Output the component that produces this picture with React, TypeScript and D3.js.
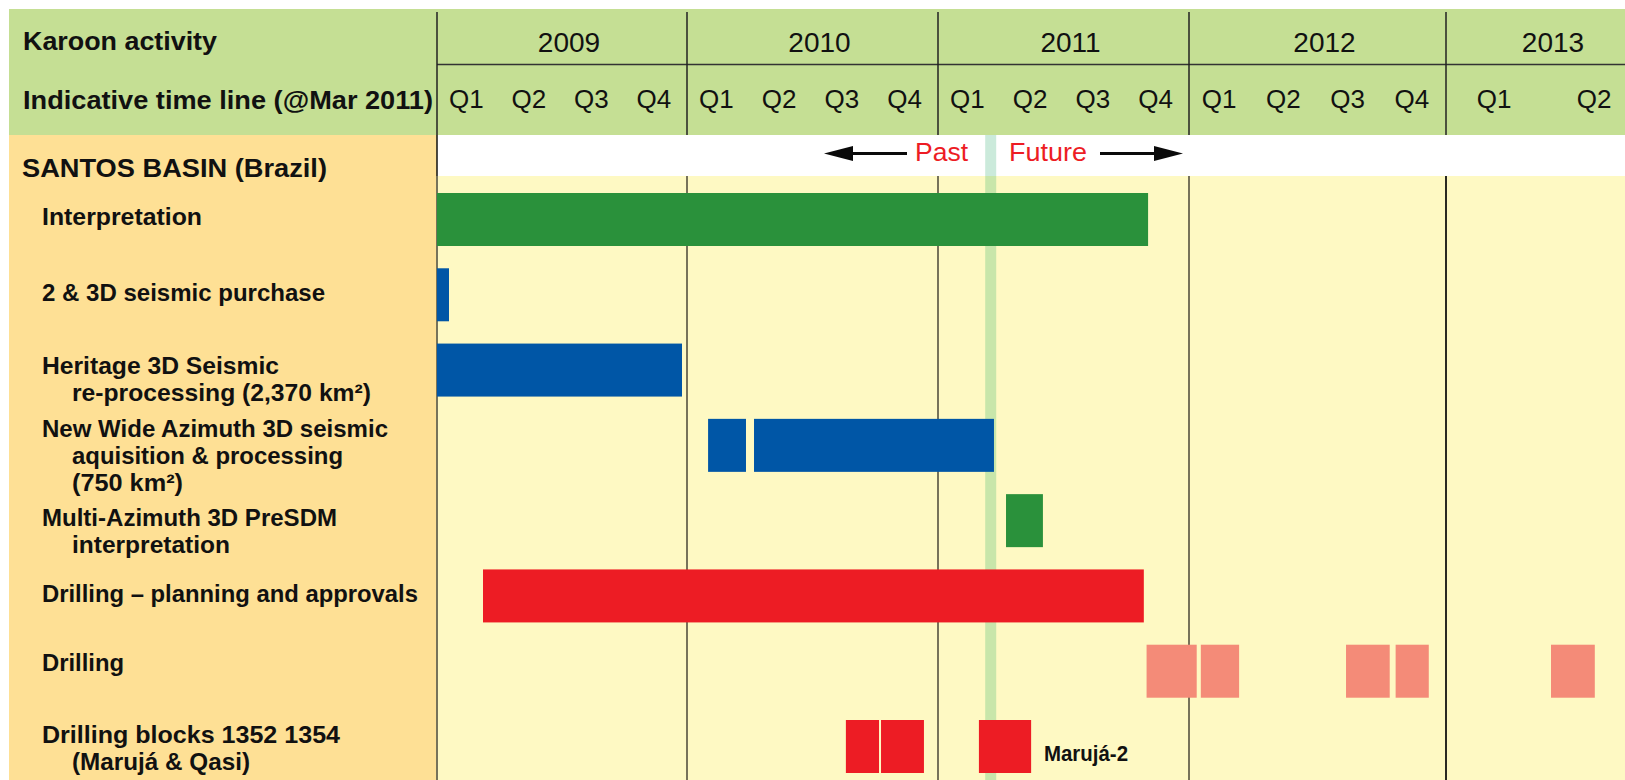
import * as d3 from "d3";

// time axis
const years = [2009, 2010, 2011, 2012, 2013];
const quarters = ["Q1", "Q2", "Q3", "Q4"];
const lastQuarterShown = 2; // 2013 only shows Q1, Q2
const asOfDate = 2011.21; // "@Mar 2011"

// activity labels (one entry per row, one string per line)
const rowLabels = [
  ["Interpretation"],
  ["2 & 3D seismic purchase"],
  ["Heritage 3D Seismic", "re-processing (2,370 km²)"],
  ["New Wide Azimuth 3D seismic", "aquisition & processing", "(750 km²)"],
  ["Multi-Azimuth 3D PreSDM", "interpretation"],
  ["Drilling – planning and approvals"],
  ["Drilling"],
  ["Drilling  blocks 1352 1354", "(Marujá & Qasi)"],
];

// bar spans in decimal years, per row
const interpretationSpans = [[2009.0, 2011.837]];
const purchaseSpans = [[2009.0, 2009.048]];
const heritageSpans = [[2009.0, 2009.98]];
const wideAzimuthSpans = [[2010.084, 2010.235], [2010.267, 2011.223]];
const presdmSpans = [[2011.271, 2011.418]];
const planningSpans = [[2009.184, 2011.82]];
const drillingSpans = [
  [2011.831, 2012.03],
  [2012.046, 2012.195],
  [2012.611, 2012.781],
  [2012.804, 2012.933],
  [2013.2625, 2013.372],
];
const blockSpans = [[2010.633, 2010.765], [2010.773, 2010.944], [2011.163, 2011.371]];

const rowSpans = [
  interpretationSpans,
  purchaseSpans,
  heritageSpans,
  wideAzimuthSpans,
  presdmSpans,
  planningSpans,
  drillingSpans,
  blockSpans,
];
const rowKinds = ["green", "blue", "blue", "blue", "green", "red", "salmon", "red"];

const colors: Record<string, string> = {
  green: "#2a913b",
  blue: "#0056a6",
  red: "#ed1c24",
  salmon: "#f48b78",
};

// layout
const W = 1625;
const H = 780;
const left = 437;
const headTop = 9;
const headBottom = 135;
const bandBottom = 176;
const barH = 53;
const font = "'Liberation Sans', Arial, Helvetica, sans-serif";
// first-line baseline offset from the bar top, and measured text widths
const labelOffsets = [32, 33, 30, 18, 32, 33, 26, 23];
const labelWidths = [
  [160],
  [283],
  [237, 299],
  [346, 271, 111],
  [295, 158],
  [376],
  [82],
  [298, 178],
];

const App = () => {
  const x = d3
    .scaleLinear()
    .domain([2009, 2010, 2011, 2012, 2013, 2013.5])
    .range([437, 687, 938, 1189, 1446, 1646]);

  const y = d3
    .scaleLinear()
    .domain([0, rowLabels.length - 1])
    .range([193, 720]);

  const quarterTicks: { label: string; pos: number }[] = [];
  years.forEach((yr) => {
    quarters.forEach((q, i) => {
      if (yr === 2013 && i >= lastQuarterShown) return;
      quarterTicks.push({ label: q, pos: x(yr + i * 0.25 + 0.125) });
    });
  });

  const asOfX = x(asOfDate);

  return (
    <svg
      width={W}
      height={H}
      style={{ position: "absolute", left: 0, top: 0, background: "#fff" }}
    >
      {/* backgrounds */}
      <rect x={headTop} y={headTop} width={W - headTop} height={headBottom - headTop} fill="#c5df94" />
      <rect x={headTop} y={headBottom} width={left - headTop} height={H - headBottom} fill="#fee095" />
      <rect x={left} y={headBottom} width={W - left} height={bandBottom - headBottom} fill="#ffffff" />
      <rect x={left} y={bandBottom} width={W - left} height={H - bandBottom} fill="#fef9c3" />

      {/* current date band */}
      <rect x={asOfX - 5.5} y={headBottom} width={11} height={bandBottom - headBottom} fill="#cbeadb" />
      <rect x={asOfX - 5.5} y={bandBottom} width={11} height={H - bandBottom} fill="#c8e6aa" />

      {/* header lines */}
      <line x1={left} x2={W} y1={64.5} y2={64.5} stroke="#333" strokeWidth={1.5} />
      {years.map((yr) => (
        <line key={"h" + yr} x1={x(yr)} x2={x(yr)} y1={12} y2={headBottom} stroke="#222" strokeWidth={1.5} />
      ))}
      <line x1={left} x2={left} y1={headBottom} y2={bandBottom} stroke="#111" strokeWidth={1.5} />

      {/* body grid lines */}
      {years.map((yr) => (
        <line
          key={"g" + yr}
          x1={x(yr)}
          x2={x(yr)}
          y1={bandBottom}
          y2={H}
          stroke={yr === 2013 ? "#2a2a22" : "#77735a"}
          strokeWidth={2}
        />
      ))}

      {/* bars */}
      {rowSpans.map((spans, r) =>
        spans.map((s, k) => (
          <rect
            key={`b${r}-${k}`}
            x={x(s[0])}
            y={y(r)}
            width={x(s[1]) - x(s[0])}
            height={barH}
            fill={colors[rowKinds[r]]}
          />
        ))
      )}

      {/* header text */}
      <g fontFamily={font} fill="#111">
        <text x={23} y={50} fontSize={26} fontWeight="bold" textLength={194} lengthAdjust="spacingAndGlyphs">
          Karoon activity
        </text>
        <text x={23} y={109} fontSize={26} fontWeight="bold" textLength={410} lengthAdjust="spacingAndGlyphs">
          Indicative time line (@Mar 2011)
        </text>
        {years.map((yr) => (
          <text
            key={"y" + yr}
            x={(x(yr) + x(Math.min(yr + 1, 2013.5))) / 2 + 7}
            y={52}
            fontSize={28}
            textAnchor="middle"
          >
            {yr}
          </text>
        ))}
        {quarterTicks.map((q, i) => (
          <text key={"q" + i} x={q.pos - 2} y={108} fontSize={26} textAnchor="middle">
            {q.label}
          </text>
        ))}
      </g>

      {/* Past / Future */}
      <g fontFamily={font} fontSize={25} fill="#ed1c24">
        <text x={915} y={161} textLength={53} lengthAdjust="spacingAndGlyphs">Past</text>
        <text x={1009} y={161} textLength={78} lengthAdjust="spacingAndGlyphs">Future</text>
      </g>
      <g fill="#0a0a0a" stroke="none">
        <rect x={851} y={152} width={56} height={3} />
        <path d="M824,153.5 L853,146 L853,161 Z" />
        <rect x={1100} y={152} width={56} height={3} />
        <path d="M1183,153.5 L1154,146 L1154,161 Z" />
      </g>

      {/* row labels */}
      <g fontFamily={font} fontWeight="bold" fill="#111">
        <text x={22} y={177} fontSize={26} textLength={305} lengthAdjust="spacingAndGlyphs">
          SANTOS BASIN (Brazil)
        </text>
        {rowLabels.map((lines, r) =>
          lines.map((line, j) => (
            <text
              key={`l${r}-${j}`}
              x={j === 0 ? 42 : 72}
              y={y(r) + labelOffsets[r] + j * 27}
              fontSize={24}
              textLength={labelWidths[r][j]}
              lengthAdjust="spacingAndGlyphs"
            >
              {line}
            </text>
          ))
        )}
        <text x={1044} y={761} fontSize={22} textLength={84} lengthAdjust="spacingAndGlyphs">
          Marujá-2
        </text>
      </g>
    </svg>
  );
};

export default App;
